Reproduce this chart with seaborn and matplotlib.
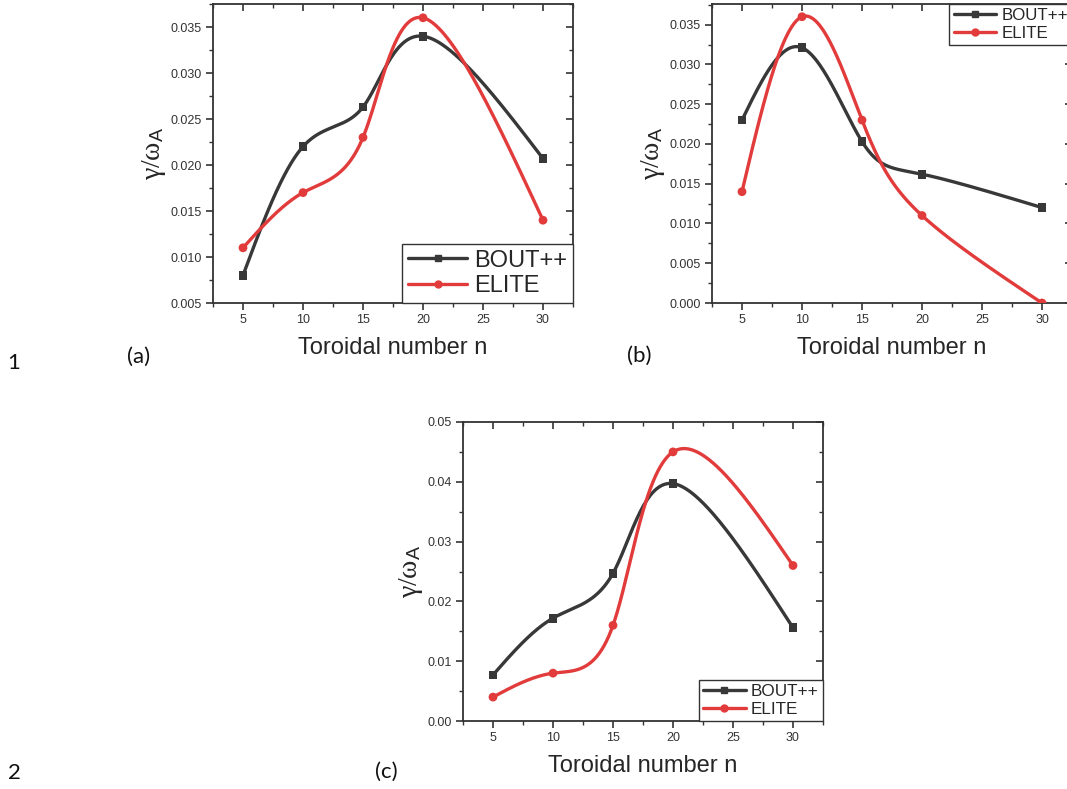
import numpy as np
import pandas as pd
import matplotlib
matplotlib.use("Agg")
import matplotlib.pyplot as plt
from matplotlib.lines import Line2D
from matplotlib.ticker import MultipleLocator, FormatStrFormatter
import seaborn as sns

# values
n_modes = [5, 10, 15, 20, 30]
bout_a = [0.0080, 0.0220, 0.0263, 0.0340, 0.0207]
elite_a = [0.0110, 0.0170, 0.0230, 0.0360, 0.0140]
bout_b = [0.0230, 0.0321, 0.0203, 0.0162, 0.0120]
elite_b = [0.0140, 0.0360, 0.0230, 0.0110, 0.0000]
bout_c = [0.0077, 0.0172, 0.0247, 0.0397, 0.0156]
elite_c = [0.0040, 0.0080, 0.0160, 0.0450, 0.0260]
models = ["BOUT++", "ELITE"]
colors = {"BOUT++": "#383838", "ELITE": "#e23b3b"}
marks = {"BOUT++": "s", "ELITE": "o"}


def natural(t, v, ts):
    n = len(t)
    h = np.diff(t)
    A = np.zeros((n, n))
    b = np.zeros(n)
    A[0, 0] = A[-1, -1] = 1
    for i in range(1, n - 1):
        A[i, i - 1] = h[i - 1]
        A[i, i] = 2 * (h[i - 1] + h[i])
        A[i, i + 1] = h[i]
        b[i] = 3 * ((v[i + 1] - v[i]) / h[i] - (v[i] - v[i - 1]) / h[i - 1])
    c = np.linalg.solve(A, b)
    k = np.clip(np.searchsorted(t, ts) - 1, 0, n - 2)
    dt = ts - t[k]
    bk = (v[k + 1] - v[k]) / h[k] - h[k] * (2 * c[k] + c[k + 1]) / 3
    dk = (c[k + 1] - c[k]) / (3 * h[k])
    return v[k] + bk * dt + c[k] * dt ** 2 + dk * dt ** 3


def spline_curve(x, y, num=400):
    # parametric spline over point index, like Origin's "spline" connection
    x = np.asarray(x, float)
    y = np.asarray(y, float)
    t = np.arange(len(x), dtype=float)
    ts = np.linspace(0, t[-1], num)
    return natural(t, x, ts), natural(t, y, ts)


sns.set_theme(style="ticks")
plt.rcParams["font.family"] = ["Liberation Sans", "DejaVu Sans"]
plt.rcParams["mathtext.fontset"] = "custom"
plt.rcParams["mathtext.rm"] = "Liberation Serif"
plt.rcParams["mathtext.it"] = "Liberation Serif"
plt.rcParams["mathtext.sf"] = "Liberation Sans"

fig = plt.figure(figsize=(10.67, 7.89), dpi=100)


def panel(rect, bout, elite, ylim, ymaj, fmt, leg_loc, leg_size):
    ax = fig.add_axes(rect)
    pts = pd.DataFrame({
        "n": n_modes * 2,
        "g": bout + elite,
        "model": ["BOUT++"] * 5 + ["ELITE"] * 5,
    })
    curves = []
    for m, vals in zip(models, [bout, elite]):
        xs, ys = spline_curve(n_modes, vals)
        curves.append(pd.DataFrame({"n": xs, "g": ys, "model": m}))
    curves = pd.concat(curves)
    sns.lineplot(data=curves, x="n", y="g", hue="model", palette=colors,
                 lw=2.4, legend=False, ax=ax, sort=False)
    sns.scatterplot(data=pts, x="n", y="g", hue="model", style="model",
                    palette=colors, markers=marks, s=40, linewidth=0,
                    legend=False, ax=ax, zorder=3)
    ax.set_xlim(2.5, 32.5)
    ax.set_ylim(*ylim)
    ax.xaxis.set_major_locator(MultipleLocator(5))
    ax.xaxis.set_minor_locator(MultipleLocator(2.5))
    ax.yaxis.set_major_locator(MultipleLocator(ymaj))
    ax.yaxis.set_minor_locator(MultipleLocator(ymaj / 2))
    ax.yaxis.set_major_formatter(FormatStrFormatter(fmt))
    ax.tick_params(which="major", direction="out", length=5, width=1.2,
                   labelsize=9, colors="#333333", pad=3)
    ax.tick_params(which="minor", direction="out", length=3, width=1.0,
                   colors="#333333")
    for s in ax.spines.values():
        s.set_color("#333333")
        s.set_linewidth(1.3)
    top = ax.secondary_xaxis("top")
    top.xaxis.set_major_locator(MultipleLocator(5))
    top.xaxis.set_minor_locator(MultipleLocator(2.5))
    top.tick_params(which="major", direction="in", length=5, width=1.2,
                    labeltop=False, colors="#333333")
    top.tick_params(which="minor", direction="in", length=3, width=1.0,
                    colors="#333333")
    right = ax.secondary_yaxis("right")
    right.yaxis.set_major_locator(MultipleLocator(ymaj))
    right.yaxis.set_minor_locator(MultipleLocator(ymaj / 2))
    right.tick_params(which="major", direction="in", length=5, width=1.2,
                      labelright=False, colors="#333333")
    right.tick_params(which="minor", direction="in", length=3, width=1.0,
                      colors="#333333")
    for sec in (top, right):
        for s in sec.spines.values():
            s.set_visible(False)
    ax.set_xlabel("Toroidal number n", fontsize=17, labelpad=8)
    ax.set_ylabel(r"$\mathrm{\gamma/\omega}_{\mathsf{A}}$", fontsize=20,
                  labelpad=2)
    handles = [Line2D([], [], color=colors[m], marker=marks[m], lw=2.4,
                      markersize=5) for m in models]
    leg = ax.legend(handles, models, loc=leg_loc, borderaxespad=0,
                    fontsize=leg_size, fancybox=False, framealpha=1,
                    edgecolor="#333333", handlelength=2.5, handletextpad=0.3,
                    borderpad=0.25, labelspacing=0.15)
    leg.get_frame().set_linewidth(1.0)
    return ax


panel([213 / 1067, 1 - 303 / 789, 360 / 1067, 299 / 789], bout_a, elite_a,
      (0.005, 0.0375), 0.005, "%.3f", "lower right", 17)
panel([712 / 1067, 1 - 303 / 789, 360 / 1067, 299 / 789], bout_b, elite_b,
      (0.0, 0.0376), 0.005, "%.3f", "upper right", 12.2)
panel([463 / 1067, 1 - 721 / 789, 360 / 1067, 299 / 789], bout_c, elite_c,
      (0.0, 0.05), 0.01, "%.2f", "lower right", 12.3)

for txt, x, y in [("1", 14, 363), ("(a)", 139, 357), ("(b)", 639, 356),
                  ("2", 14, 773), ("(c)", 386, 772)]:
    fig.text(x / 1067, 1 - y / 789, txt, fontsize=16, ha="center",
             va="center", family=["Lato", "DejaVu Sans"], color="#111111")

fig.savefig("out.png", dpi=100)
